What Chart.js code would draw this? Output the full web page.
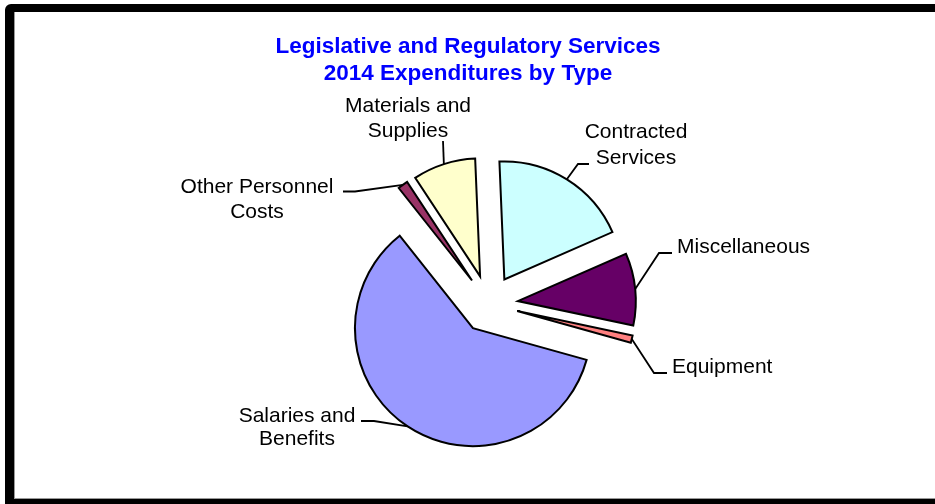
<!DOCTYPE html>
<html>
<head>
<meta charset="utf-8">
<script src="https://cdn.jsdelivr.net/npm/chart.js@4.4.1/dist/chart.umd.min.js"></script>
<style>
body { margin: 0; background: #fff; overflow: hidden; }
#frame { position: absolute; left: 5px; top: 4px; width: 960px; height: 487px;
  border: 8px solid #000; border-left-width: 9px; border-radius: 6px 0 0 0;
  box-shadow: inset 1px -1px 0 #999; }
#wrap { position: absolute; left: 0; top: 0; width: 935px; height: 504px; }
</style>
</head>
<body>
<div id="frame"></div>
<div id="wrap"><canvas id="pie" width="935" height="504"></canvas></div>
<script>
var titleLines = ['Legislative and Regulatory Services', '2014 Expenditures by Type'];
var categories = [['Contracted', 'Services'], ['Miscellaneous'], ['Equipment'],
  ['Salaries and', 'Benefits'], ['Other Personnel', 'Costs'], ['Materials and', 'Supplies']];
var shares = [19.1, 9.9, 1.0, 60.0, 1.4, 8.6];   // percent of 2014 spending
var sliceColors = ['#ccffff', '#660066', '#ff8080', '#9999ff', '#993366', '#ffffcc'];

// push every slice out from the centre along its bisector
var explodePlugin = {
  id: 'explode',
  afterDatasetUpdate: function(chart, args, opts) {
    args.meta.data.forEach(function(arc) {
      var mid = (arc.startAngle + arc.endAngle) / 2;
      arc.x += opts.distance * Math.cos(mid);
      arc.y += opts.distance * Math.sin(mid);
    });
  }
};

// title, slice names and their leader lines
var calloutPlugin = {
  id: 'callouts',
  afterDatasetsDraw: function(chart, args, opts) {
    var ctx = chart.ctx;
    var arcs = chart.getDatasetMeta(0).data;
    ctx.save();
    ctx.textBaseline = 'alphabetic';
    ctx.textAlign = 'center';
    ctx.fillStyle = opts.titleColor;
    ctx.font = opts.titleFont;
    titleLines.forEach(function(t, k) {
      ctx.fillText(t, opts.titleX, opts.titleY + k * opts.titleGap);
    });

    ctx.font = opts.font;
    ctx.fillStyle = '#000';
    ctx.strokeStyle = '#000';
    ctx.lineWidth = 1.8;
    opts.spots.forEach(function(s, i) {
      var arc = arcs[i];
      var mid = (arc.startAngle + arc.endAngle) / 2;
      ctx.beginPath();
      ctx.moveTo(arc.x + arc.outerRadius * Math.cos(mid), arc.y + arc.outerRadius * Math.sin(mid));
      if (s.elbow) ctx.lineTo(s.elbow[0], s.elbow[1]);
      ctx.lineTo(s.end[0], s.end[1]);
      ctx.stroke();
      ctx.textAlign = s.align;
      chart.data.labels[i].forEach(function(line, k) {
        ctx.fillText(line, s.x, s.y + k * (s.gap || 0));
      });
    });
    ctx.restore();
  }
};

var ctx = document.getElementById('pie').getContext('2d');
var chart = new Chart(ctx, {
  type: 'pie',
  data: {
    labels: categories,
    datasets: [{
      data: shares,
      backgroundColor: sliceColors,
      borderColor: '#000',
      borderWidth: 2,
      borderJoinStyle: 'miter',
      hoverOffset: 0
    }]
  },
  options: {
    responsive: false,
    devicePixelRatio: 1,
    animation: false,
    rotation: -2.4,
    radius: 118,
    layout: { padding: { left: 43, top: 104, right: 0, bottom: 0 } },
    events: [],
    plugins: {
      legend: { display: false },
      tooltip: { enabled: false },
      explode: { distance: 29 },
      callouts: {
        titleFont: 'bold 22.5px "Liberation Sans", Arial, sans-serif',
        titleColor: '#0000ff',
        titleX: 468, titleY: 53, titleGap: 27,
        font: '21px "Liberation Sans", Arial, sans-serif',
        spots: [
          { x: 636, y: 138, gap: 25.5, align: 'center', elbow: [578, 164], end: [589, 164] },
          { x: 677, y: 253, align: 'left', elbow: [659, 253], end: [672, 253] },
          { x: 672, y: 373, align: 'left', elbow: [654, 373], end: [667, 373] },
          { x: 297, y: 421.5, gap: 23.5, align: 'center', elbow: [374, 421], end: [361, 421] },
          { x: 257, y: 193, gap: 25, align: 'center', elbow: [355, 191.5], end: [343, 191.5] },
          { x: 408, y: 112, gap: 25, align: 'center', elbow: null, end: [443, 141] }
        ]
      }
    }
  },
  plugins: [explodePlugin, calloutPlugin]
});
</script>
</body>
</html>
